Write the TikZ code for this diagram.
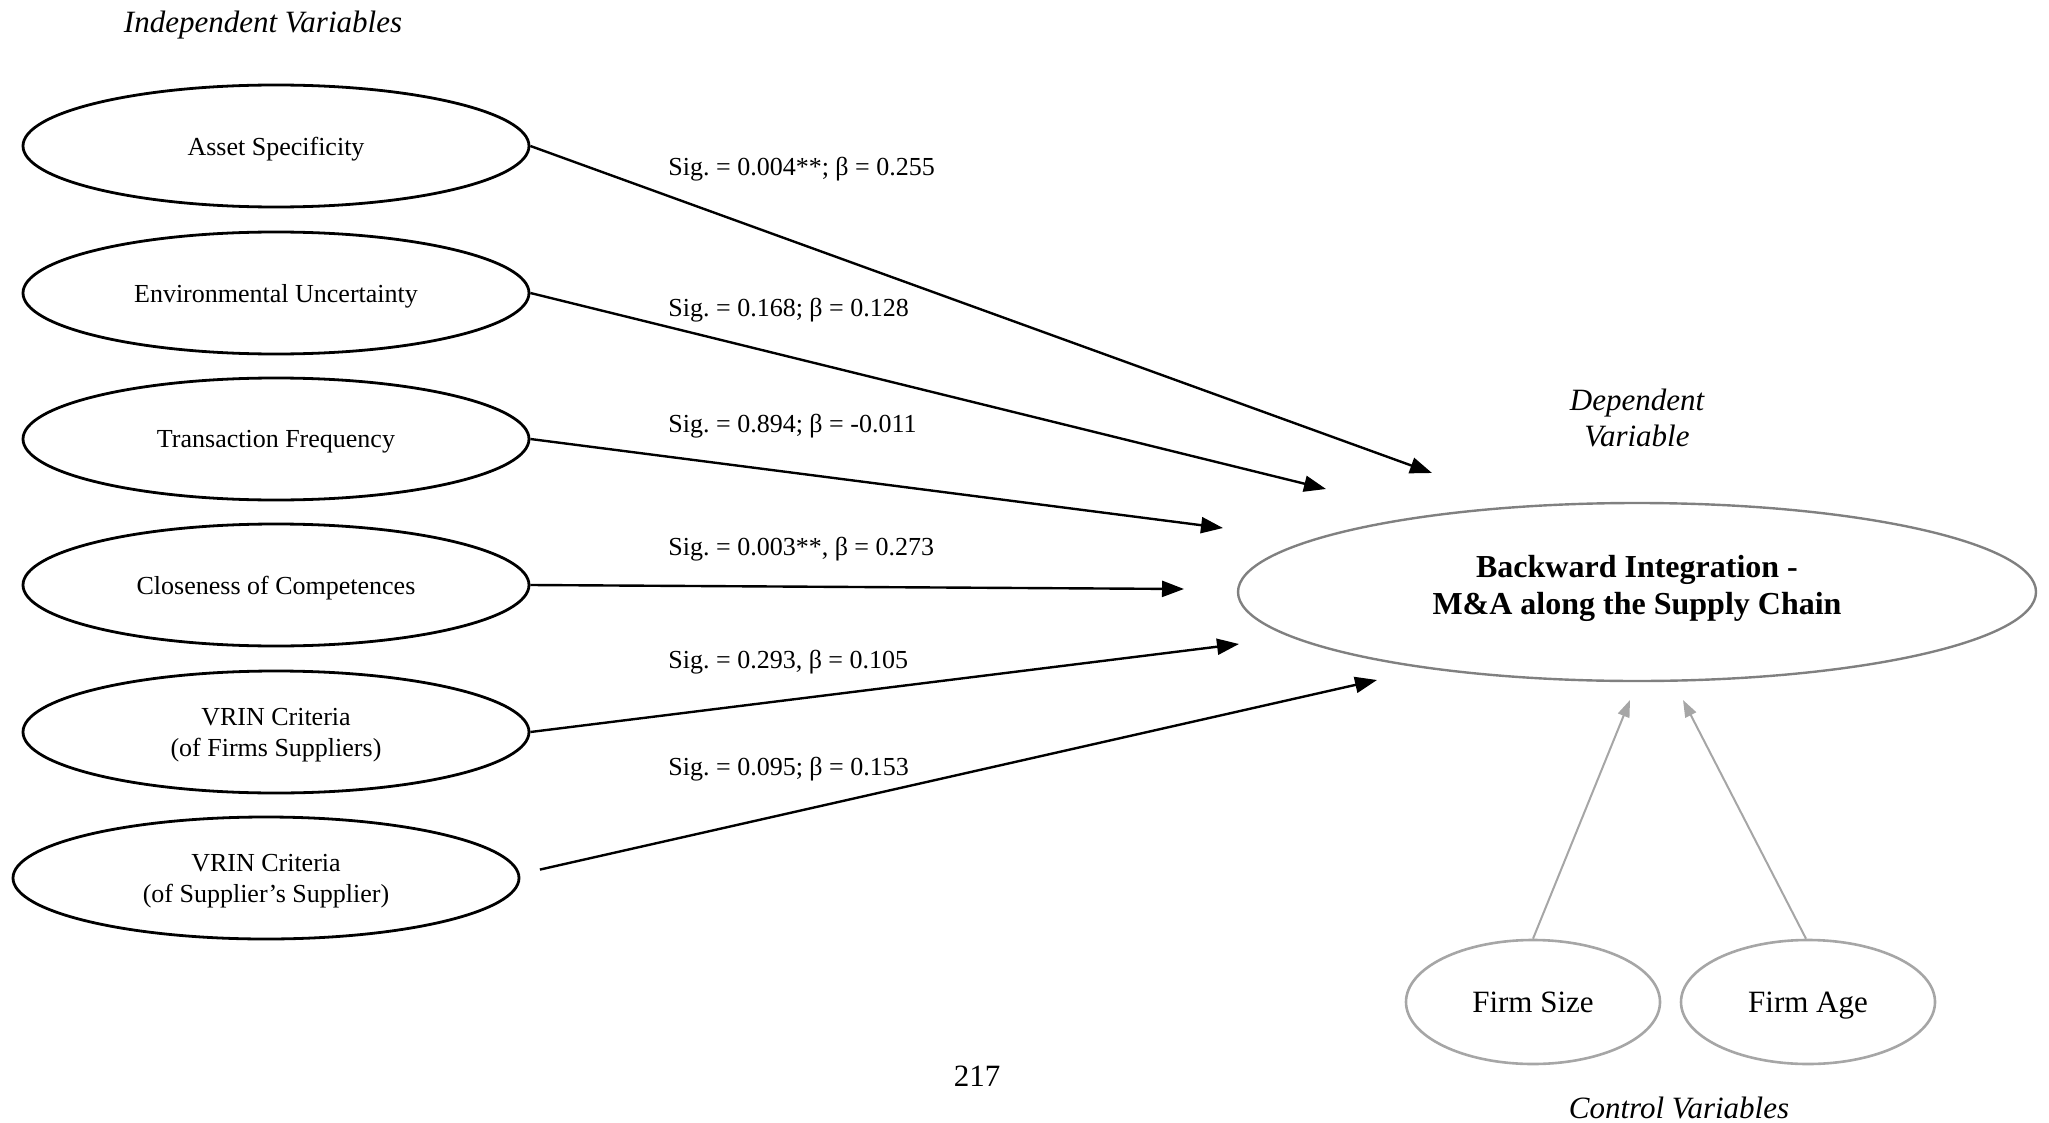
\documentclass[tikz,border=0pt]{standalone}
\usepackage{fontspec}
\setmainfont{Liberation Serif}
\usetikzlibrary{shapes.geometric,arrows.meta}
\frenchspacing

\begin{document}
\begin{tikzpicture}[x=0.5pt,y=-0.5pt,
  iv/.style={ellipse, draw=black, line width=1.4pt, minimum width=253pt,
    minimum height=61pt, inner sep=0pt,
    label={[ivtext]center:#1}},
  ivtext/.style={align=center, inner sep=0pt, yshift=-1.5pt,
    font=\fontsize{13}{15.5}\selectfont},
  dvbox/.style={ellipse, draw=black!50, line width=1.2pt, minimum width=399pt,
    minimum height=89pt, inner sep=0pt,
    label={[dvtext]center:#1}},
  dvtext/.style={align=center, inner sep=0pt, yshift=1.75pt,
    font=\fontsize{16}{18.3}\selectfont\bfseries},
  cv/.style={ellipse, draw=black!35, line width=1.3pt, minimum width=127pt,
    minimum height=62pt, inner sep=0pt, text depth=0pt,
    font=\fontsize{15.5}{18}\selectfont},
  arr/.style={line width=1.2pt, -{Triangle[length=11pt,width=8pt]}},
  carr/.style={line width=1pt, draw=black!35, -{Triangle[length=8.5pt,width=6pt,fill=black!35]}},
  sig/.style={anchor=west, inner sep=0pt, font=\fontsize{13}{15}\selectfont},
  caption/.style={align=center, inner sep=0pt, font=\fontsize{15.5}{18}\selectfont\itshape}
]
\useasboundingbox (0,0) rectangle (2049,1123);

% independent variables
\node[caption] (ivt) at (263,25) {Independent Variables};
\node[iv={Asset Specificity}] (as) at (276,146) {};
\node[iv={Environmental Uncertainty}] (eu) at (276,293) {};
\node[iv={Transaction Frequency}] (tf) at (276,439) {};
\node[iv={Closeness of Competences}] (cc) at (276,585) {};
\node[iv={VRIN Criteria\\(of Firms Suppliers)}] (vf) at (276,732) {};
\node[iv={VRIN Criteria\\(of Supplier’s Supplier)}] (vs) at (266,878) {};

% dependent variable
\node[caption] (dvt) at (1637,418) {Dependent\\Variable};
\node[dvbox={Backward Integration -\\M\&A along the Supply Chain}] (dv) at (1637,592) {};

% control variables
\node[cv] (fs) at (1533,1002) {Firm Size};
\node[cv] (fa) at (1808,1002) {Firm Age};
\node[caption] (cvt) at (1679,1108) {Control Variables};

% page number
\node[inner sep=0pt, font=\fontsize{15.5}{18}\selectfont] (pg) at (977,1076) {217};

% arrow tips short of the dependent variable
\coordinate (t1) at (1432,473);
\coordinate (t2) at (1326,489);
\coordinate (t3) at (1223,528);
\coordinate (t4) at (1184,589);
\coordinate (t5) at (1239,644);
\coordinate (t6) at (1377,680);
\coordinate (c1) at (1630,700);
\coordinate (c2) at (1683,700);

\draw[arr] (as.east) -- (t1);
\draw[arr] (eu.east) -- (t2);
\draw[arr] (tf.east) -- (t3);
\draw[arr] (cc.east) -- (t4);
\draw[arr] (vf.east) -- (t5);
\draw[arr, shorten <=10pt] ([yshift=2pt]vs.east) -- (t6);

\draw[carr] (fs.north) -- (c1);
\draw[carr] ([xshift=-1pt]fa.north) -- (c2);

% coefficients
\node[sig] (s1) at (668,169) {Sig. = 0.004**; β = 0.255};
\node[sig] (s2) at (668,310) {Sig. = 0.168; β = 0.128};
\node[sig] (s3) at (668,426) {Sig. = 0.894; β = -0.011};
\node[sig] (s4) at (668,549) {Sig. = 0.003**, β = 0.273};
\node[sig] (s5) at (668,662) {Sig. = 0.293, β = 0.105};
\node[sig] (s6) at (668,769) {Sig. = 0.095; β = 0.153};
\end{tikzpicture}
\end{document}
